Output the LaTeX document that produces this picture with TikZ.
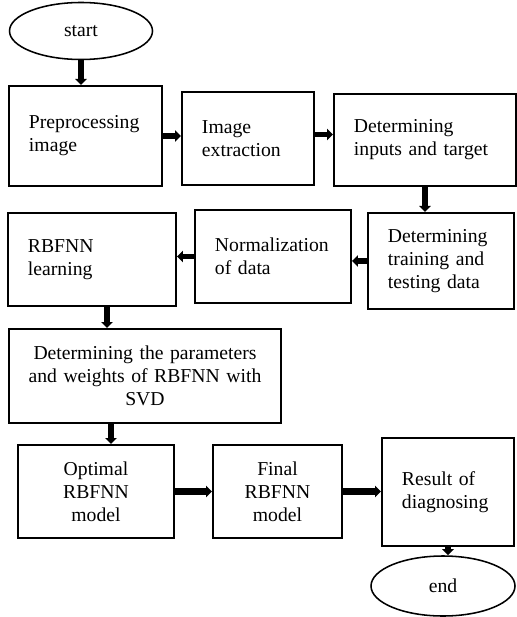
\documentclass[tikz,border=0pt]{standalone}
\usepackage{fontspec}
\setmainfont{Liberation Serif}
\usepackage{tikz}
\usetikzlibrary{shapes.geometric,arrows.meta}
\tikzstyle{rect} = [rectangle, draw=black, line width=1.4pt, inner xsep=0.5cm, text centered, anchor=north west, font=\fontsize{14}{16.3}\selectfont]
\tikzstyle{lrect} = [rect, align=left]
\tikzstyle{term} = [ellipse, draw=black, line width=1.1pt, font=\fontsize{14}{16.3}\selectfont]
\tikzstyle{arr} = [-{Triangle[width=0.28cm,length=0.15cm]}, line width=0.14cm]

\begin{document}
\begin{tikzpicture}
            \useasboundingbox (0,0) rectangle (12.9,-15.425);

            \node (start) [term, minimum width=3.575cm, minimum height=1.425cm] at (2.025,-0.775) {start};

            % first row
            \node (prep) [lrect, minimum width=3.825cm, minimum height=2.5cm, text width=2.825cm] at (0.2,-2.125) {Preprocessing\\image};
            \node (img) [lrect, minimum width=3.3cm, minimum height=2.325cm, text width=2.3cm] at (4.525,-2.275) {Image\\extraction};
            \node (inp) [lrect, minimum width=4.55cm, minimum height=2.3cm, text width=3.55cm] at (8.325,-2.325) {Determining\\inputs and target};

            % second row
            \node (trn) [lrect, minimum width=3.65cm, minimum height=2.4cm, text width=2.65cm] at (9.175,-5.3) {Determining\\training and\\testing data};
            \node (nrm) [lrect, minimum width=3.9cm, minimum height=2.325cm, text width=2.9cm] at (4.85,-5.225) {Normalization\\of data};
            \node (lrn) [lrect, minimum width=4.2cm, minimum height=2.325cm, text width=3.2cm] at (0.175,-5.3) {RBFNN\\learning};

            \node (svd) [rect, align=center, inner xsep=0.4cm, minimum width=6.8cm, minimum height=2.35cm, text width=6cm] at (0.2,-8.2) {Determining the parameters\\and weights of RBFNN with\\SVD};

            % last row
            \node (opt) [rect, align=center, minimum width=3.9cm, minimum height=2.325cm, text width=2.9cm] at (0.425,-11.1) {Optimal\\RBFNN\\model};
            \node (fin) [rect, align=center, minimum width=3.225cm, minimum height=2.325cm, text width=2.225cm] at (5.3,-11.1) {Final\\RBFNN\\model};
            \node (res) [lrect, minimum width=3.3cm, minimum height=2.7cm, text width=2.3cm] at (9.525,-10.925) {Result of\\diagnosing};

            \node (end) [term, minimum width=3.6cm, minimum height=1.5cm] at (11.075,-14.65) {end};

            \draw [arr] (start.south) -- (start.south |- prep.north);
            \draw [arr] (prep.east) -- (prep.east -| img.west);
            \draw [arr] ([yshift=0.1cm]img.east) -- ([yshift=0.1cm]img.east -| inp.west);
            \draw [arr] (inp.south) -- (inp.south |- trn.north);
            \draw [arr] (trn.west) -- (trn.west -| nrm.east);
            \draw [arr] (nrm.west) -- (nrm.west -| lrn.east);
            \draw [arr] ([xshift=0.375cm]lrn.south) -- ([xshift=0.375cm]lrn.south |- svd.north);
            \draw [arr] ([xshift=-0.85cm]svd.south) -- ([xshift=-0.85cm]svd.south |- opt.north);
            \draw [arr, line width=0.17cm] (opt.east) -- (opt.east -| fin.west);
            \draw [arr, line width=0.17cm] (fin.east) -- (fin.east -| res.west);
            \draw [arr] (res.south) -- (res.south |- end.north);
\end{tikzpicture}
\end{document}
